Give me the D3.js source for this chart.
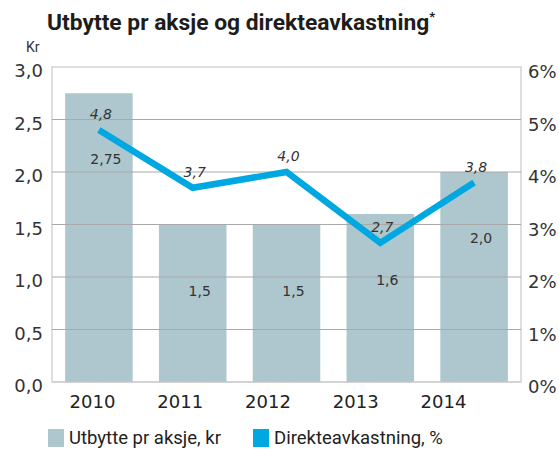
<!DOCTYPE html>
<html>
<head>
<meta charset="utf-8">
<script src="https://cdn.jsdelivr.net/npm/d3@7"></script>
<style>
  body { margin: 0; background: #fff; }
  svg { display: block; }
</style>
</head>
<body>
<div id="chart"></div>
<script>
const barColor = "#aec6cd";
const lineColor = "#00a8e1";

const years = ["2010", "2011", "2012", "2013", "2014"];
const dividend = [2.75, 1.5, 1.5, 1.6, 2.0];
const dividendLabels = ["2,75", "1,5", "1,5", "1,6", "2,0"];
const yieldPct = [4.8, 3.7, 4.0, 2.65, 3.8];
const yieldLabels = ["4,8", "3,7", "4,0", "2,7", "3,8"];
const leftTicks = [0, 0.5, 1, 1.5, 2, 2.5, 3];
const rightTicks = [0, 1, 2, 3, 4, 5, 6];

const W = 559, H = 450;
const plot = { left: 52, right: 521, top: 67, bottom: 382 };

const svg = d3.select("#chart").append("svg")
    .attr("width", W).attr("height", H)
    .style("font-family", "'DejaVu Sans', sans-serif");

const x = d3.scaleBand().domain(years).range([plot.left, plot.right]).paddingInner(0.28).paddingOuter(0.14);
const xLabel = d3.scalePoint().domain(years).range([92, 443]);
const yL = d3.scaleLinear().domain([0, 3]).range([plot.bottom, plot.top]);
const yR = d3.scaleLinear().domain([0, 6]).range([plot.bottom, plot.top]);

// title
const title = svg.append("text")
    .attr("x", 47).attr("y", 30)
    .attr("font-family", "Roboto, sans-serif")
    .attr("font-weight", "bold")
    .attr("font-size", "22.8px")
    .attr("fill", "#1d1d1b")
    .text("Utbytte pr aksje og direkteavkastning");
title.append("tspan").attr("font-size", "13px").attr("dy", "-9").text("*");

svg.append("text")
    .attr("x", 26).attr("y", 52)
    .attr("font-family", "Roboto, sans-serif")
    .attr("font-size", "14px").attr("fill", "#333")
    .text("Kr");

// plot frame
svg.append("rect")
    .attr("x", plot.left).attr("y", plot.top)
    .attr("width", plot.right - plot.left).attr("height", plot.bottom - plot.top)
    .attr("fill", "none").attr("stroke", "#c8c8c8").attr("stroke-width", 1.2);

// bars
svg.append("g").selectAll("rect").data(dividend).join("rect")
    .attr("x", (d, i) => x(years[i]))
    .attr("y", d => yL(d))
    .attr("width", x.bandwidth())
    .attr("height", d => yL(0) - yL(d))
    .attr("fill", barColor);

// gridlines over bars
svg.append("g").selectAll("line").data(leftTicks.slice(1, -1)).join("line")
    .attr("x1", plot.left).attr("x2", plot.right)
    .attr("y1", d => yL(d)).attr("y2", d => yL(d))
    .attr("stroke", "#a9a9a9").attr("stroke-width", 1.2);

svg.append("line")
    .attr("x1", plot.left).attr("x2", plot.right)
    .attr("y1", yL(0)).attr("y2", yL(0))
    .attr("stroke", "#c8c8c8").attr("stroke-width", 1.2);

// left axis
const leftAxis = d3.axisLeft(yL).tickValues(leftTicks).tickSize(0).tickPadding(9)
    .tickFormat(d => d3.format(".1f")(d).replace(".", ","));
const gl = svg.append("g").attr("transform", `translate(${plot.left},0)`).call(leftAxis);
gl.select(".domain").remove();
gl.selectAll("text").attr("font-size", "18px").attr("fill", "#333").attr("font-family", "'DejaVu Sans', sans-serif").attr("dy", "0.55em");

// right axis
const rightAxis = d3.axisRight(yR).tickValues(rightTicks).tickSize(0).tickPadding(7)
    .tickFormat(d => d + "%");
const gr = svg.append("g").attr("transform", `translate(${plot.right},0)`).call(rightAxis);
gr.select(".domain").remove();
gr.selectAll("text").attr("font-size", "18px").attr("fill", "#333").attr("font-family", "'DejaVu Sans', sans-serif").attr("dy", "0.6em");

// x axis labels
const bottomAxis = d3.axisBottom(xLabel).tickSize(0).tickPadding(13);
const gb = svg.append("g").attr("transform", `translate(0,${plot.bottom})`).call(bottomAxis);
gb.select(".domain").remove();
gb.selectAll("text").attr("font-size", "18px").attr("fill", "#222").attr("font-family", "'DejaVu Sans', sans-serif");

// line
const line = d3.line()
    .x((d, i) => x(years[i]) + x.bandwidth() / 2)
    .y(d => yR(d));
svg.append("path").datum(yieldPct)
    .attr("d", line)
    .attr("fill", "none")
    .attr("stroke", lineColor)
    .attr("stroke-width", 6.5);

// bar value labels
svg.append("g").selectAll("text").data(dividend).join("text")
    .attr("x", (d, i) => x(years[i]) + x.bandwidth() / 2 + 7)
    .attr("y", d => yL(d) + 71)
    .attr("text-anchor", "middle")
    .attr("font-size", "14px").attr("fill", "#333")
    .text((d, i) => dividendLabels[i]);

// line value labels
svg.append("g").selectAll("text").data(yieldPct).join("text")
    .attr("x", (d, i) => x(years[i]) + x.bandwidth() / 2 + 2)
    .attr("y", d => yR(d) - 11)
    .attr("text-anchor", "middle")
    .attr("font-size", "14px").attr("font-style", "italic").attr("fill", "#333")
    .text((d, i) => yieldLabels[i]);

// legend
const legend = [
    { label: "Utbytte pr aksje, kr", color: barColor, x: 48 },
    { label: "Direkteavkastning, %", color: lineColor, x: 253 }
];
const lg = svg.append("g").selectAll("g").data(legend).join("g")
    .attr("transform", d => `translate(${d.x},429)`);
lg.append("rect").attr("width", 16).attr("height", 18).attr("fill", d => d.color);
lg.append("text").attr("x", 21).attr("y", 15)
    .attr("font-family", "Roboto, sans-serif")
    .attr("font-size", "18.5px").attr("fill", "#222")
    .text(d => d.label);
</script>
</body>
</html>
